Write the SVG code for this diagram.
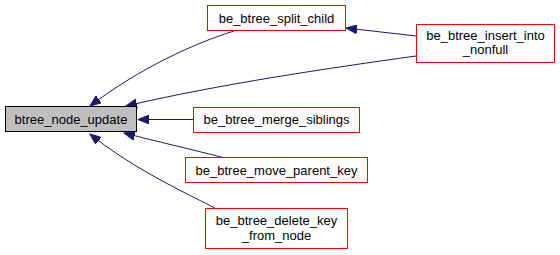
<svg xmlns="http://www.w3.org/2000/svg" width="560" height="255" viewBox="0 0 560 255">
  <style>
    .node rect { fill: #ffffff; stroke: #ff0000; stroke-width: 1; }
    .node.root rect { fill: #bfbfbf; stroke: #000000; }
    .node text { font-family: "Liberation Sans", Arial, Helvetica, sans-serif; font-size: 13px; fill: #000000; text-anchor: middle; }
    .edges path { fill: none; stroke: #191970; stroke-width: 1; marker-end: url(#arrow); }
  </style>
  <defs>
    <marker id="arrow" markerUnits="userSpaceOnUse" markerWidth="12" markerHeight="9" refX="11" refY="4.5" orient="auto">
      <path d="M0,0 L11,4.5 L0,9 z" fill="#191970" stroke="#191970" stroke-width="1"/>
    </marker>
  </defs>

  <g id="edges" class="edges">
    <path d="M234,31 C195,43 140,68 90,106"/>
    <path d="M416,56 C330,68 220,84 126,106"/>
    <path d="M193,119.5 L138,119.5"/>
    <path d="M225,158 C190,149 155,141 124,133"/>
    <path d="M215,208 C175,188 128,165 90,134"/>
    <path d="M416,36 L346,28"/>
  </g>

  <g id="node_btree_node_update" class="node root">
    <rect x="5.5" y="106.5" width="131" height="25"/>
    <text x="71" y="123.5">btree_node_update</text>
  </g>
  <g id="node_be_btree_split_child" class="node">
    <rect x="207.5" y="5.5" width="138" height="25"/>
    <text x="276.5" y="22.5">be_btree_split_child</text>
  </g>
  <g id="node_be_btree_insert_into_nonfull" class="node">
    <rect x="416.5" y="24.5" width="138" height="38"/>
    <text x="485.5" y="39.5">be_btree_insert_into</text>
    <text x="485.5" y="54">_nonfull</text>
  </g>
  <g id="node_be_btree_merge_siblings" class="node">
    <rect x="193.5" y="107.5" width="166" height="25"/>
    <text x="276.5" y="124">be_btree_merge_siblings</text>
  </g>
  <g id="node_be_btree_move_parent_key" class="node">
    <rect x="185.5" y="157.5" width="182" height="25"/>
    <text x="276.5" y="174.5">be_btree_move_parent_key</text>
  </g>
  <g id="node_be_btree_delete_key_from_node" class="node">
    <rect x="205.5" y="208.5" width="142" height="40"/>
    <text x="276.5" y="225">be_btree_delete_key</text>
    <text x="276.5" y="240">_from_node</text>
  </g>
</svg>
